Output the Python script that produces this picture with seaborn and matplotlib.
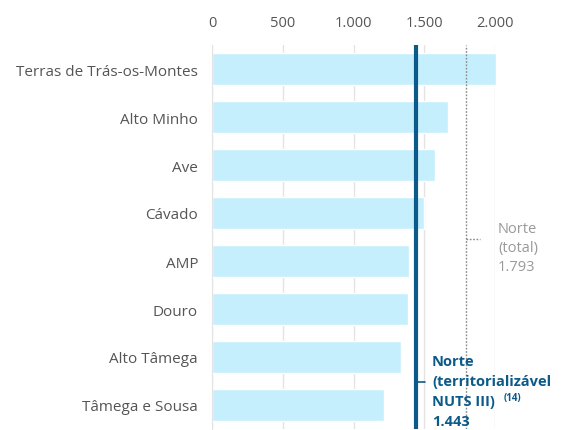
import matplotlib.pyplot as plt
import seaborn as sns
import pandas as pd
from matplotlib.ticker import FuncFormatter

# values
regions = ['Terras de Trás-os-Montes', 'Alto Minho', 'Ave', 'Cávado', 'AMP',
           'Douro', 'Alto Tâmega', 'Tâmega e Sousa']
values = [2010, 1668, 1576, 1498, 1392, 1385, 1336, 1216]
norte_total = 1793
norte_nuts = 1443

df = pd.DataFrame({'region': regions, 'value': values})

sns.set_style('white')
plt.rcParams['font.family'] = ['Open Sans', 'DejaVu Sans']

grey_txt = '#555555'
dark_blue = '#0b5a8a'

fig = plt.figure(figsize=(5.66, 4.31), dpi=100)
ax = fig.add_axes([212 / 566, 1 / 431, 283 / 566, 384 / 431])

sns.barplot(data=df, x='value', y='region', color='#c5effd', width=0.67,
            saturation=1, ax=ax, zorder=2)
for p in ax.patches:
    p.set_clip_on(False)

ax.set_xlim(0, 2000)
ax.set_ylim(7.5, -0.5)
ax.set_xlabel('')
ax.set_ylabel('')

# x axis on top, thousands with a dot
ax.xaxis.tick_top()
ax.set_xticks([0, 500, 1000, 1500, 2000])
ax.xaxis.set_major_formatter(FuncFormatter(lambda v, _: f'{int(v):,}'.replace(',', '.')))
ax.tick_params(axis='x', length=0, pad=11, labelsize=10.5, labelcolor=grey_txt)
ax.grid(axis='x', color='#e3e3e3', linewidth=1, zorder=0)

# category separators as small minor ticks on the left
ax.set_yticks([i - 0.5 for i in range(9)], minor=True)
ax.tick_params(axis='y', which='major', length=0, pad=10, labelsize=11, labelcolor=grey_txt)
ax.tick_params(axis='y', which='minor', length=7, color='#e3e3e3', width=1)

for side in ['top', 'right', 'bottom']:
    ax.spines[side].set_visible(False)
ax.spines['left'].set_color('#e3e3e3')

# Norte (total) reference
ax.axvline(norte_total, color='#888888', linestyle=(0, (1.2, 1.2)), linewidth=1, zorder=3)
ax.plot([norte_total, norte_total + 100], [3.55, 3.55], color='#888888',
        linestyle=(0, (1.2, 1.2)), linewidth=1, clip_on=False, zorder=3)
ax.text(2021, 3.17, 'Norte\n(total)\n' + f'{norte_total:,}'.replace(',', '.'),
        color='#999999', fontsize=10.5, va='top', ha='left', linespacing=1.35,
        clip_on=False)

# Norte (territorializavel NUTS III) reference
ax.axvline(norte_nuts, color=dark_blue, linewidth=3, zorder=4)
ax.plot([norte_nuts, norte_nuts + 60], [6.52, 6.52], color=dark_blue,
        linewidth=1.2, clip_on=False, zorder=4)
lines = ['Norte', '(territorializável', 'NUTS III)', f'{norte_nuts:,}'.replace(',', '.')]
for i, line in enumerate(lines):
    ax.text(1555, 5.94 + i * 0.415, line, color=dark_blue, fontsize=10.5,
            fontweight='bold', va='top', ha='left', clip_on=False)
ax.text(2060, 6.73, '(14)', color=dark_blue, fontsize=7, fontweight='bold',
        va='top', ha='left', clip_on=False)

fig.savefig('out.png', dpi=100)
